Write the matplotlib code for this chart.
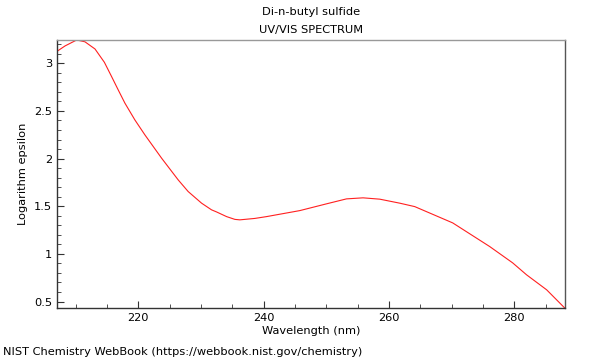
import matplotlib
matplotlib.use("Agg")
import matplotlib.pyplot as plt
from matplotlib.ticker import MultipleLocator, FuncFormatter

wavelength = [207.04, 208.33, 210.18, 211.50, 213.10, 214.60, 215.76, 216.81,
              217.88, 219.47, 221.07, 223.73, 226.38, 227.97, 230.11, 231.70,
              232.50, 234.10, 235.42, 236.21, 238.61, 240.47, 245.78, 250.04,
              253.23, 255.87, 258.54, 261.73, 264.12, 270.18, 276.08, 279.74,
              281.97, 285.17, 288.04]
log_eps = [3.125, 3.182, 3.244, 3.225, 3.150, 3.010, 2.859, 2.720,
           2.581, 2.405, 2.248, 2.004, 1.776, 1.654, 1.532, 1.462,
           1.440, 1.391, 1.362, 1.357, 1.372, 1.391, 1.454, 1.525,
           1.577, 1.588, 1.574, 1.532, 1.496, 1.325, 1.077, 0.906,
           0.780, 0.623, 0.433]

title_lines = ["Di-n-butyl sulfide", "UV/VIS SPECTRUM"]
xlabel = "Wavelength (nm)"
ylabel = "Logarithm epsilon"
footer = "NIST Chemistry WebBook (https://webbook.nist.gov/chemistry)"

plt.rcParams['font.family'] = ['DejaVu Sans']
fs = 8.2
fig = plt.figure(figsize=(6, 3.6), dpi=100)
ax = fig.add_axes([0.095, 0.1444, 0.8467, 0.7445])
ax.plot(wavelength, log_eps, color='#ff2020', lw=0.8)
ax.set_xlim(207.04, 288.1)
ax.set_ylim(0.432, 3.244)

ax.xaxis.set_major_locator(MultipleLocator(20))
ax.xaxis.set_minor_locator(MultipleLocator(5))
ax.yaxis.set_major_locator(MultipleLocator(0.5))
ax.yaxis.set_minor_locator(MultipleLocator(0.1))
ax.yaxis.set_major_formatter(FuncFormatter(lambda v, p: ('%g' % v)))
ax.tick_params(which='both', direction='in', top=False, right=False,
               labelsize=fs, color='#333333')
ax.tick_params(which='major', length=5, width=0.8)
ax.tick_params(which='minor', length=3, width=0.6)

ax.spines['top'].set_color('#999999')
ax.spines['right'].set_color('#555555')
ax.spines['left'].set_color('#333333')
ax.spines['bottom'].set_color('#333333')
for s in ax.spines.values():
    s.set_linewidth(1.0)

fig.text(0.518, 0.966, title_lines[0], ha='center', va='center', fontsize=fs)
fig.text(0.518, 0.918, title_lines[1], ha='center', va='center', fontsize=fs)
ax.set_xlabel(xlabel, fontsize=fs, labelpad=2)
ax.set_ylabel(ylabel, fontsize=fs, labelpad=4)
fig.text(0.005, 0.021, footer, ha='left', va='center', fontsize=fs)

fig.savefig("out.png", dpi=100)
